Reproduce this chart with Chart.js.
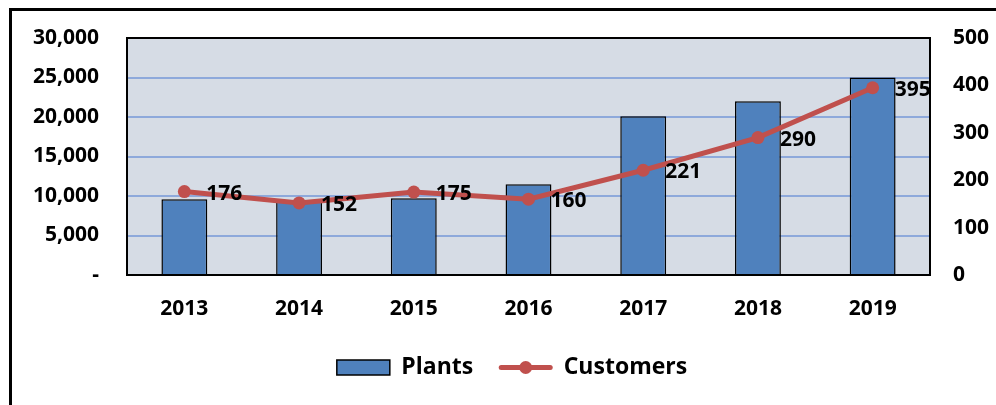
<!DOCTYPE html>
<html>
<head>
<meta charset="utf-8">
<script src="https://cdn.jsdelivr.net/npm/chart.js@4.4.0/dist/chart.umd.min.js"></script>
<style>
  html, body { margin: 0; padding: 0; background: #fff; overflow: hidden; }
  #wrap { position: relative; width: 996px; height: 405px; }
</style>
</head>
<body>
<div id="wrap"><canvas id="myChart" width="996" height="405"></canvas></div>
<script>
var years = ["2013", "2014", "2015", "2016", "2017", "2018", "2019"];
var plants = [9600, 9300, 9700, 11500, 20100, 22000, 25000];
var customers = [176, 152, 175, 160, 221, 290, 395];

var barColor = "#4F81BD";
var lineColor = "#C0504D";
var font = "'Open Sans', sans-serif";

// white page, outer frame and plot background
var backPlugin = {
  id: "back",
  beforeDraw: function (chart) {
    var ctx = chart.ctx, a = chart.chartArea;
    ctx.save();
    ctx.fillStyle = "#fff";
    ctx.fillRect(0, 0, chart.width, chart.height);
    ctx.fillStyle = "#000";
    ctx.fillRect(9, 8, 3, chart.height);
    ctx.fillRect(9, 8, chart.width, 3);
    ctx.fillStyle = "#D6DCE5";
    ctx.fillRect(a.left, a.top, a.right - a.left, a.bottom - a.top);
    ctx.restore();
  },
  beforeDatasetsDraw: function (chart) {
    var ctx = chart.ctx, a = chart.chartArea;
    ctx.save();
    ctx.strokeStyle = "#000";
    ctx.lineWidth = 2;
    ctx.strokeRect(a.left, a.top, a.right - a.left, a.bottom - a.top);
    ctx.restore();
  },
  afterDraw: function (chart) {
    var ctx = chart.ctx;
    // value labels next to the customer points
    var meta = chart.getDatasetMeta(1);
    ctx.save();
    ctx.font = "bold 21px " + font;
    ctx.fillStyle = "#000";
    ctx.textBaseline = "middle";
    ctx.textAlign = "left";
    meta.data.forEach(function (pt, i) {
      ctx.fillText(customers[i], pt.x + 22, pt.y + 2);
    });
    // line + marker legend symbol
    var idx = chart.legend.legendItems.findIndex(function (it) { return it.datasetIndex === 1; });
    var hb = chart.legend.legendHitBoxes[idx];
    if (hb) {
      var bw = chart.options.plugins.legend.labels.boxWidth;
      var cy = hb.top + hb.height / 2;
      ctx.strokeStyle = lineColor;
      ctx.lineWidth = 5;
      ctx.lineCap = "round";
      ctx.beginPath();
      ctx.moveTo(hb.left + 2, cy);
      ctx.lineTo(hb.left + bw - 2, cy);
      ctx.stroke();
      ctx.fillStyle = lineColor;
      ctx.beginPath();
      ctx.arc(hb.left + bw / 2, cy, 6.5, 0, Math.PI * 2);
      ctx.fill();
    }
    ctx.restore();
  }
};

var tickFont = { family: font, size: 21, weight: "bold" };

new Chart("myChart", {
  type: "bar",
  data: {
    labels: years,
    datasets: [{
      label: "Plants",
      data: plants,
      backgroundColor: barColor,
      borderColor: "#000",
      borderWidth: 1.5,
      categoryPercentage: 1,
      barPercentage: 0.4,
      yAxisID: "y",
      order: 2
    }, {
      type: "line",
      label: "Customers",
      data: customers,
      borderColor: lineColor,
      backgroundColor: lineColor,
      borderWidth: 5,
      pointRadius: 6.5,
      pointBackgroundColor: lineColor,
      pointBorderWidth: 0,
      tension: 0,
      yAxisID: "y1",
      order: 1
    }]
  },
  options: {
    responsive: false,
    animation: false,
    devicePixelRatio: 1,
    layout: { padding: { left: 28, right: 0, top: 38, bottom: 16 } },
    scales: {
      x: {
        grid: { display: false, drawTicks: false },
        border: { display: false },
        ticks: { color: "#000", maxRotation: 0, font: tickFont, padding: 21 },
        afterFit: function (s) { s.height = 55; s.paddingLeft = 0; s.paddingRight = 0; }
      },
      y: {
        position: "left",
        min: 0, max: 30000,
        grid: { color: "#8EA9DB", lineWidth: 2, drawTicks: false },
        border: { display: false },
        ticks: {
          stepSize: 5000,
          color: "#000",
          font: tickFont,
          padding: 28,
          callback: function (v) { return v === 0 ? "-" : v.toLocaleString("en-US"); }
        },
        afterFit: function (s) { s.width = 99; s.paddingTop = 0; s.paddingBottom = 0; }
      },
      y1: {
        position: "right",
        min: 0, max: 500,
        grid: { display: false, drawTicks: false },
        border: { display: false },
        ticks: { stepSize: 100, color: "#000", font: tickFont, padding: 23 },
        afterFit: function (s) { s.width = 66; s.paddingTop = 0; s.paddingBottom = 0; }
      }
    },
    plugins: {
      tooltip: { enabled: false },
      legend: {
        position: "bottom",
        labels: {
          color: "#000",
          font: { family: font, size: 23, weight: "bold" },
          boxWidth: 53,
          boxHeight: 15,
          padding: 26,
          generateLabels: function (chart) {
            var items = Chart.defaults.plugins.legend.labels.generateLabels(chart);
            items.sort(function (a, b) { return a.datasetIndex - b.datasetIndex; });
            items.forEach(function (it) {
              if (it.datasetIndex === 1) {
                it.fillStyle = "rgba(0,0,0,0)";
                it.strokeStyle = "rgba(0,0,0,0)";
                it.lineWidth = 0;
              } else {
                it.strokeStyle = "#000";
                it.lineWidth = 1.5;
              }
            });
            return items;
          }
        }
      }
    }
  },
  plugins: [backPlugin]
});
</script>
</body>
</html>
